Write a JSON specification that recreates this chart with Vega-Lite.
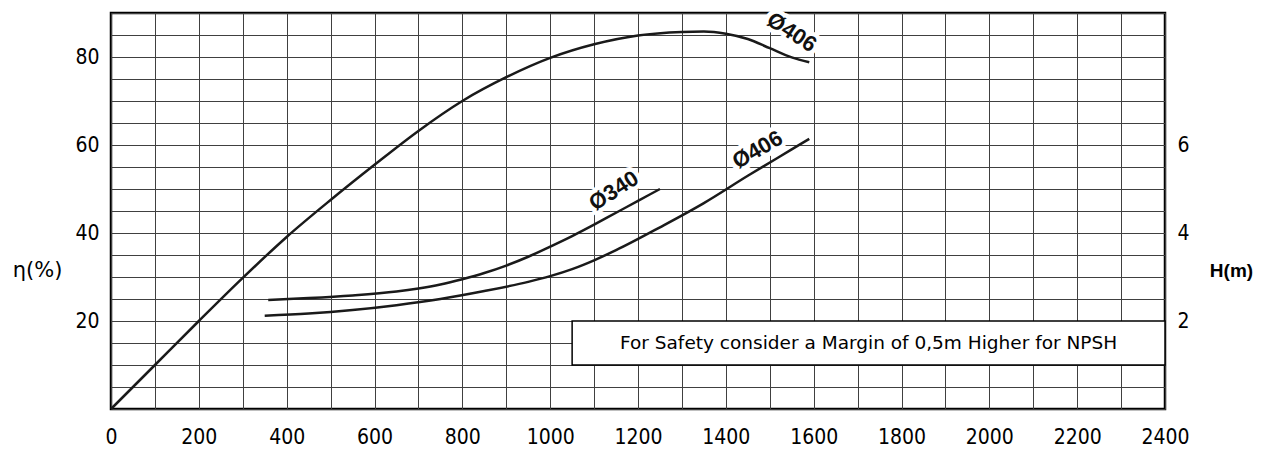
{
  "$schema": "https://vega.github.io/schema/vega-lite/v6.json",
  "width": 1054,
  "height": 396,
  "autosize": "none",
  "padding": {"left": 111, "top": 13, "right": 99, "bottom": 41},
  "background": "white",
  "config": {
    "view": {"stroke": "black", "strokeWidth": 2.5},
    "font": "DejaVu Sans"
  },
  "datasets": {
    "eff": [
      {"q": 0, "eta": 0}, {"q": 100, "eta": 10}, {"q": 200, "eta": 20}, {"q": 300, "eta": 29.8},
      {"q": 400, "eta": 39.1}, {"q": 500, "eta": 47.5}, {"q": 600, "eta": 55.5}, {"q": 700, "eta": 63.2},
      {"q": 800, "eta": 70.0}, {"q": 900, "eta": 75.4}, {"q": 1000, "eta": 79.8}, {"q": 1100, "eta": 82.9},
      {"q": 1200, "eta": 84.9}, {"q": 1300, "eta": 85.7}, {"q": 1350, "eta": 85.8}, {"q": 1400, "eta": 85.3},
      {"q": 1450, "eta": 84.1}, {"q": 1500, "eta": 82.0}, {"q": 1550, "eta": 79.9}, {"q": 1590, "eta": 78.8}
    ],
    "head": [
      {"d": "Ø340", "q": 358, "H": 2.48}, {"d": "Ø340", "q": 450, "H": 2.52}, {"d": "Ø340", "q": 550, "H": 2.58},
      {"d": "Ø340", "q": 650, "H": 2.67}, {"d": "Ø340", "q": 700, "H": 2.74}, {"d": "Ø340", "q": 750, "H": 2.83},
      {"d": "Ø340", "q": 800, "H": 2.95}, {"d": "Ø340", "q": 850, "H": 3.09}, {"d": "Ø340", "q": 900, "H": 3.26},
      {"d": "Ø340", "q": 950, "H": 3.46}, {"d": "Ø340", "q": 1000, "H": 3.69}, {"d": "Ø340", "q": 1050, "H": 3.93},
      {"d": "Ø340", "q": 1100, "H": 4.19}, {"d": "Ø340", "q": 1150, "H": 4.46}, {"d": "Ø340", "q": 1200, "H": 4.73},
      {"d": "Ø340", "q": 1250, "H": 5.0},
      {"d": "Ø406", "q": 350, "H": 2.12}, {"d": "Ø406", "q": 450, "H": 2.17}, {"d": "Ø406", "q": 550, "H": 2.25},
      {"d": "Ø406", "q": 650, "H": 2.36}, {"d": "Ø406", "q": 750, "H": 2.5}, {"d": "Ø406", "q": 850, "H": 2.68},
      {"d": "Ø406", "q": 950, "H": 2.89}, {"d": "Ø406", "q": 1000, "H": 3.02}, {"d": "Ø406", "q": 1050, "H": 3.18},
      {"d": "Ø406", "q": 1100, "H": 3.38}, {"d": "Ø406", "q": 1150, "H": 3.61},
      {"d": "Ø406", "q": 1250, "H": 4.13}, {"d": "Ø406", "q": 1350, "H": 4.68}, {"d": "Ø406", "q": 1450, "H": 5.3},
      {"d": "Ø406", "q": 1550, "H": 5.9}, {"d": "Ø406", "q": 1590, "H": 6.14}
    ],
    "note": [
      {"q": 1050, "q2": 2400, "eta": 10, "eta2": 20, "qc": 1725, "etac": 15, "text": "For Safety consider a Margin of 0,5m Higher for NPSH"}
    ],
    "effLabel": [{"label": "Ø406", "q": 1550, "eta": 85.6}],
    "headLabels": [
      {"label": "Ø340", "q": 1145, "H": 4.96},
      {"label": "Ø406", "q": 1472, "H": 5.89}
    ]
  },
  "layer": [
    {
      "data": {"name": "eff"},
      "mark": {"type": "line", "color": "#1a1a1a", "strokeWidth": 2.5, "interpolate": "monotone"},
      "encoding": {
        "x": {
          "field": "q", "type": "quantitative",
          "scale": {"domain": [0, 2400], "nice": false, "zero": false},
          "axis": {
            "title": null,
            "values": [0,50,100,150,200,250,300,350,400,450,500,550,600,650,700,750,800,850,900,950,1000,1050,1100,1150,1200,1250,1300,1350,1400,1450,1500,1550,1600,1650,1700,1750,1800,1850,1900,1950,2000,2050,2100,2150,2200,2250,2300,2350,2400],
            "format": "d",
            "labelExpr": "datum.value % 200 === 0 ? datum.label : ''",
            "labelOverlap": false,
            "labelFlush": false,
            "ticks": false,
            "domain": false,
            "grid": true,
            "gridColor": "#404040",
            "gridWidth": 1,
            "labelFont": "DejaVu Sans Condensed, Liberation Sans Narrow, DejaVu Sans",
            "labelFontSize": 21,
            "labelColor": "black",
            "labelPadding": 17,
            "labelBaseline": "top"
          }
        },
        "y": {
          "field": "eta", "type": "quantitative",
          "scale": {"domain": [0, 90], "nice": false, "zero": false},
          "axis": {
            "orient": "left",
            "values": [0,5,10,15,20,25,30,35,40,45,50,55,60,65,70,75,80,85,90],
            "labelExpr": "(datum.value === 20 || datum.value === 40 || datum.value === 60 || datum.value === 80) ? datum.label : ''",
            "labelOverlap": false,
            "labelFlush": false,
            "ticks": false,
            "domain": false,
            "grid": true,
            "gridColor": "#404040",
            "gridWidth": 1,
            "labelFont": "DejaVu Sans Condensed, Liberation Sans Narrow, DejaVu Sans",
            "labelFontSize": 21,
            "labelColor": "black",
            "labelPadding": 12,
            "title": "η(%)",
            "titleAngle": 0,
            "titleAlign": "center",
            "titleBaseline": "middle",
            "titleX": -74,
            "titleY": 257,
            "titleFont": "DejaVu Sans",
            "titleFontSize": 21,
            "titleFontWeight": "normal",
            "titleColor": "black"
          }
        }
      }
    },
    {
      "data": {"name": "note"},
      "mark": {"type": "rect", "fill": "white", "stroke": "black", "strokeWidth": 1.5},
      "encoding": {
        "x": {"field": "q", "type": "quantitative"},
        "x2": {"field": "q2"},
        "y": {"field": "eta", "type": "quantitative", "scale": {"domain": [0, 90], "nice": false, "zero": false}, "axis": null},
        "y2": {"field": "eta2"}
      }
    },
    {
      "data": {"name": "note"},
      "mark": {"type": "text", "font": "DejaVu Sans", "fontSize": 18.5, "color": "black", "align": "center", "baseline": "middle"},
      "encoding": {
        "x": {"field": "qc", "type": "quantitative"},
        "y": {"field": "etac", "type": "quantitative", "scale": {"domain": [0, 90], "nice": false, "zero": false}, "axis": null},
        "text": {"field": "text"}
      }
    },
    {
      "data": {"name": "effLabel"},
      "mark": {"type": "text", "font": "Liberation Sans", "fontWeight": "bold", "fontSize": 22, "fill": "white", "stroke": "white", "strokeWidth": 9, "strokeJoin": "round", "angle": 33, "align": "center", "baseline": "middle"},
      "encoding": {
        "x": {"field": "q", "type": "quantitative"},
        "y": {"field": "eta", "type": "quantitative", "scale": {"domain": [0, 90], "nice": false, "zero": false}, "axis": null},
        "text": {"field": "label"}
      }
    },
    {
      "data": {"name": "effLabel"},
      "mark": {"type": "text", "font": "Liberation Sans", "fontWeight": "bold", "fontSize": 22, "fill": "#111", "angle": 33, "align": "center", "baseline": "middle"},
      "encoding": {
        "x": {"field": "q", "type": "quantitative"},
        "y": {"field": "eta", "type": "quantitative", "scale": {"domain": [0, 90], "nice": false, "zero": false}, "axis": null},
        "text": {"field": "label"}
      }
    },
    {
      "data": {"name": "head"},
      "mark": {"type": "line", "color": "#1a1a1a", "strokeWidth": 2.5, "interpolate": "monotone"},
      "encoding": {
        "x": {"field": "q", "type": "quantitative"},
        "y": {
          "field": "H", "type": "quantitative",
          "scale": {"domain": [0, 9], "nice": false, "zero": false},
          "axis": {
            "orient": "right",
            "values": [2, 4, 6],
            "ticks": false,
            "domain": false,
            "grid": false,
            "labelOverlap": false,
            "labelFlush": false,
            "labelFont": "DejaVu Sans Condensed, Liberation Sans Narrow, DejaVu Sans",
            "labelFontSize": 21,
            "labelColor": "black",
            "labelPadding": 12,
            "title": "H(m)",
            "titleAngle": 0,
            "titleAlign": "center",
            "titleBaseline": "middle",
            "titleX": 66,
            "titleY": 257,
            "titleFont": "Liberation Sans",
            "titleFontSize": 19,
            "titleFontWeight": "bold",
            "titleColor": "black"
          }
        },
        "detail": {"field": "d"}
      }
    },
    {
      "data": {"name": "headLabels"},
      "transform": [{"filter": "datum.label === 'Ø340'"}],
      "mark": {"type": "text", "font": "Liberation Sans", "fontWeight": "bold", "fontSize": 22, "fill": "white", "stroke": "white", "strokeWidth": 9, "strokeJoin": "round", "angle": 327, "align": "center", "baseline": "middle"},
      "encoding": {
        "x": {"field": "q", "type": "quantitative"},
        "y": {"field": "H", "type": "quantitative", "scale": {"domain": [0, 9], "nice": false, "zero": false}, "axis": null},
        "text": {"field": "label"}
      }
    },
    {
      "data": {"name": "headLabels"},
      "transform": [{"filter": "datum.label === 'Ø340'"}],
      "mark": {"type": "text", "font": "Liberation Sans", "fontWeight": "bold", "fontSize": 22, "fill": "#111", "angle": 327, "align": "center", "baseline": "middle"},
      "encoding": {
        "x": {"field": "q", "type": "quantitative"},
        "y": {"field": "H", "type": "quantitative", "scale": {"domain": [0, 9], "nice": false, "zero": false}, "axis": null},
        "text": {"field": "label"}
      }
    },
    {
      "data": {"name": "headLabels"},
      "transform": [{"filter": "datum.label === 'Ø406'"}],
      "mark": {"type": "text", "font": "Liberation Sans", "fontWeight": "bold", "fontSize": 22, "fill": "white", "stroke": "white", "strokeWidth": 9, "strokeJoin": "round", "angle": 330, "align": "center", "baseline": "middle"},
      "encoding": {
        "x": {"field": "q", "type": "quantitative"},
        "y": {"field": "H", "type": "quantitative", "scale": {"domain": [0, 9], "nice": false, "zero": false}, "axis": null},
        "text": {"field": "label"}
      }
    },
    {
      "data": {"name": "headLabels"},
      "transform": [{"filter": "datum.label === 'Ø406'"}],
      "mark": {"type": "text", "font": "Liberation Sans", "fontWeight": "bold", "fontSize": 22, "fill": "#111", "angle": 330, "align": "center", "baseline": "middle"},
      "encoding": {
        "x": {"field": "q", "type": "quantitative"},
        "y": {"field": "H", "type": "quantitative", "scale": {"domain": [0, 9], "nice": false, "zero": false}, "axis": null},
        "text": {"field": "label"}
      }
    }
  ],
  "resolve": {"scale": {"y": "independent"}, "axis": {"y": "independent"}}
}
